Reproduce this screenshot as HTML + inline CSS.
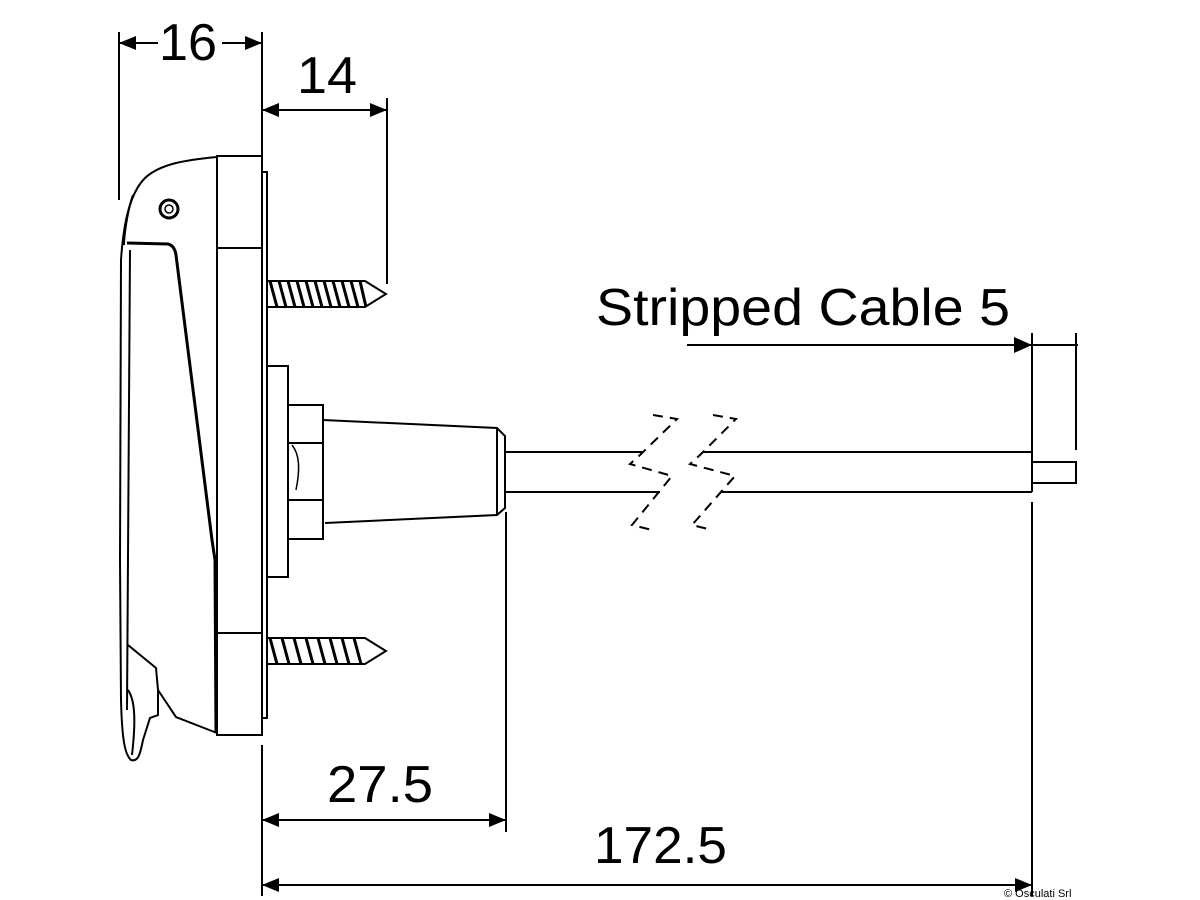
<!DOCTYPE html>
<html><head><meta charset="utf-8"><style>html,body{margin:0;padding:0;background:#fff}svg{display:block}</style></head>
<body>
<svg width="1200" height="900" viewBox="0 0 1200 900" xmlns="http://www.w3.org/2000/svg" font-family="Liberation Sans, sans-serif">
<g fill="none" stroke="#000" stroke-width="2">
<!-- extension lines -->
<line x1="119" y1="32" x2="119" y2="200"/>
<line x1="262" y1="32" x2="262" y2="155"/>
<line x1="387" y1="98" x2="387" y2="284"/>
<line x1="262" y1="745" x2="262" y2="896"/>
<line x1="506" y1="512" x2="506" y2="832"/>
<line x1="1032" y1="333" x2="1032" y2="452"/>
<line x1="1032" y1="502" x2="1032" y2="896"/>
<line x1="1076" y1="333" x2="1076" y2="450"/>
<!-- dim lines -->
<line x1="119" y1="43" x2="158" y2="43"/>
<line x1="222" y1="43" x2="262" y2="43"/>
<line x1="262" y1="110" x2="387" y2="110"/>
<line x1="262" y1="820" x2="506" y2="820"/>
<line x1="262" y1="885" x2="1032" y2="885"/>
<line x1="687" y1="345" x2="1032" y2="345"/>
<line x1="1032" y1="345" x2="1078" y2="345"/>
<!-- flange -->
<rect x="217" y="156" width="45" height="579"/>
<line x1="217" y1="248" x2="262" y2="248"/>
<line x1="217" y1="633" x2="262" y2="633"/>
<rect x="262" y="172" width="5" height="546"/>
<!-- body outline -->
<path d="M217 157 C185 160 160 164 145 178 C128 195 123 230 121 260 L120 560 L121 700 C122 740 125 755 131 760 C138 762 140 755 143 740 L150 718 L158 715 L158 690 L176 717 L217 733"/>
<path d="M133 195 C126 215 124 240 124 245"/>
<path d="M127 243 L168 244 C172 245 175 248 176 255 L212 540 L215 560 L216 733" stroke-width="3"/>
<path d="M130 250 L127 710"/>
<path d="M128 645 L156 668 L158 690"/>
<path d="M128 690 C135 700 136 720 132 755"/>
<circle cx="169" cy="209" r="9" stroke-width="3"/>
<circle cx="169" cy="209" r="4" stroke-width="1.5"/>
<!-- hub and nut -->
<rect x="267" y="366" width="21" height="211"/>
<rect x="288" y="405" width="35" height="134"/>
<line x1="288" y1="443" x2="323" y2="443"/>
<line x1="288" y1="500" x2="323" y2="500"/>
<path d="M292 445 C300 455 300 470 296 490" stroke-width="1.5"/>
<!-- cone -->
<path d="M323 420 L497 428 L505 436 L505 508 L497 515 L325 523"/>
<line x1="497" y1="428" x2="497" y2="515"/>
<!-- cable -->
<line x1="505" y1="452" x2="642" y2="452"/>
<line x1="505" y1="492" x2="660" y2="492"/>
<line x1="703" y1="452" x2="1032" y2="452"/>
<line x1="722" y1="492" x2="1032" y2="492"/>
<line x1="1032" y1="452" x2="1032" y2="492"/>
<rect x="1032" y="462" width="44" height="21"/>
<!-- break lines -->
<g stroke-dasharray="10,7">
<path d="M653 415 L677 419 L640 455 L630 464 L672 476 L632 525 L652 530"/>
<path d="M713 415 L736 419 L700 455 L690 464 L735 476 L692 525 L712 530"/>
</g>
<!-- screws -->
<g id="s1">
<path d="M267 281 L365 281 L386 294 L365 307 L267 307"/>
<path d="M270 281 L277 307 M279 281 L286 307 M288 281 L295 307 M297 281 L304 307 M306 281 L313 307 M315 281 L322 307 M324 281 L331 307 M333 281 L340 307 M342 281 L349 307 M351 281 L358 307 M360 281 L366 307" stroke-width="3"/>
</g>
<g transform="translate(0,357)">
<path d="M267 281 L365 281 L386 294 L365 307 L267 307"/>
<path d="M270 281 L277 307 M282 281 L289 307 M294 281 L301 307 M306 281 L313 307 M318 281 L325 307 M330 281 L337 307 M342 281 L349 307 M354 281 L361 307" stroke-width="3"/>
</g>
</g>
<!-- arrowheads -->
<g fill="#000">
<polygon points="119,43 136,36 136,50"/>
<polygon points="262,43 245,36 245,50"/>
<polygon points="262,110 279,103 279,117"/>
<polygon points="387,110 370,103 370,117"/>
<polygon points="262,820 279,813 279,827"/>
<polygon points="506,820 489,813 489,827"/>
<polygon points="262,885 279,878 279,892"/>
<polygon points="1032,885 1015,878 1015,892"/>
<polygon points="1032,345 1014,337 1014,353"/>
</g>
<g fill="#000" font-size="52">
<text x="159" y="60" textLength="58" lengthAdjust="spacingAndGlyphs">16</text>
<text x="297" y="93" textLength="60" lengthAdjust="spacingAndGlyphs">14</text>
<text x="327" y="802" textLength="106" lengthAdjust="spacingAndGlyphs">27.5</text>
<text x="594" y="863" textLength="133" lengthAdjust="spacingAndGlyphs">172.5</text>
<text x="596" y="325" textLength="414" lengthAdjust="spacingAndGlyphs">Stripped Cable 5</text>
<text x="1004" y="897" font-size="11">© Osculati Srl</text>
</g>
</svg>
</body></html>
